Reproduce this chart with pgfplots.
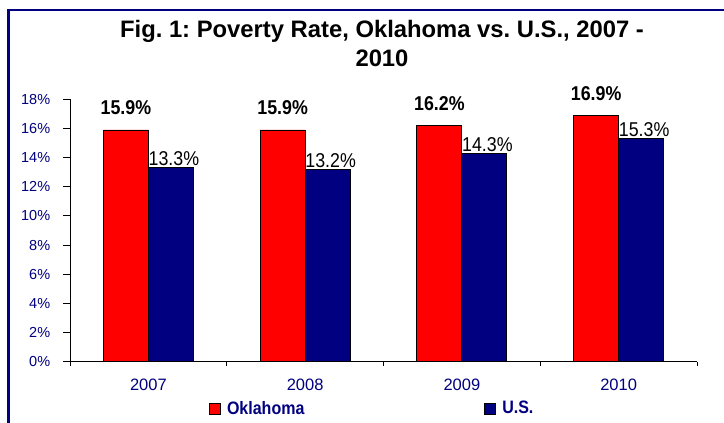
\documentclass[border=0pt]{standalone}
\usepackage{fontspec}
\setmainfont{Liberation Sans}
\newfontfamily\condfont[FakeStretch=0.89]{Liberation Sans}
\usepackage{pgfplots}
\pgfplotsset{compat=1.18}
\definecolor{navyc}{RGB}{0,0,128}
\definecolor{redc}{RGB}{255,0,0}
\frenchspacing
\begin{document}
\begin{tikzpicture}[x=1pt,y=1pt]
\useasboundingbox (0,0) rectangle (724,423);
\fill[white] (0,0) rectangle (724,423);
\draw[navyc, line width=2.5pt] (8.7,-2) -- (8.7,413) -- (726,413);
\node[font=\fontsize{23.8}{27}\selectfont\bfseries, anchor=base] at (382,385) {Fig. 1: Poverty Rate, Oklahoma vs. U.S., 2007 -};
\node[font=\fontsize{23.8}{27}\selectfont\bfseries, anchor=base] at (382,356.5) {2010};
\begin{axis}[
  at={(70pt,61.3pt)}, anchor=south west,
  width=627pt, height=262.4pt, scale only axis,
  xmin=0.5, xmax=4.5, ymin=0, ymax=18,
  separate axis lines,
  axis x line=bottom, axis y line=left,
  axis line style={-, black, line width=0.9pt},
  tick align=outside,
  xtick={0.5,1.5,2.5,3.5,4.5},
  x tick label as interval,
  xticklabels={2007,2008,2009,2010},
  xtick style={black, line width=0.9pt, /pgfplots/major tick length=4pt},
  ytick={0,2,...,18},
  ytick style={black, line width=0.9pt, /pgfplots/major tick length=7pt},
  /pgf/number format/assume math mode=true,
  yticklabel={\pgfmathprintnumber{\tick}\%},
  yticklabel style={font=\fontsize{14.5}{14.5}\selectfont, text=navyc, xshift=-12pt},
  xticklabel style={font=\fontsize{16.5}{16.5}\selectfont, text=navyc, yshift=-9pt},
  ybar=0pt, bar width=45pt,
  legend columns=2,
  legend style={draw=none, fill=none, at={(0.2217,-0.178)}, anchor=west,
    inner sep=0pt, nodes={inner sep=0pt},
    font=\condfont\fontsize{18}{18}\selectfont\bfseries, text=navyc,
    /tikz/every even column/.append style={column sep=180pt}},
  legend image code/.code={\draw[#1,draw=black,line width=0.8pt] (0pt,-5.5pt) rectangle (11pt,5.5pt); \path (17pt,0pt);},
]
\addplot[fill=redc, draw=black, line width=0.8pt,
  nodes near coords={\pgfmathprintnumber[fixed,fixed zerofill,precision=1]{\pgfplotspointmeta}\%},
  every node near coord/.append style={font=\condfont\fontsize{20}{20}\selectfont\bfseries, text=black, anchor=base, yshift=15pt}]
  coordinates {(1,15.9) (2,15.9) (3,16.2) (4,16.9)};
\addplot[fill=navyc, draw=black, line width=0.8pt,
  nodes near coords={\pgfmathprintnumber[fixed,fixed zerofill,precision=1]{\pgfplotspointmeta}\%},
  every node near coord/.append style={font=\condfont\fontsize{20}{20}\selectfont, text=black, anchor=base, yshift=2pt, xshift=3pt}]
  coordinates {(1,13.3) (2,13.2) (3,14.3) (4,15.3)};
\legend{Oklahoma,U.S.}
\end{axis}
\end{tikzpicture}
\end{document}
